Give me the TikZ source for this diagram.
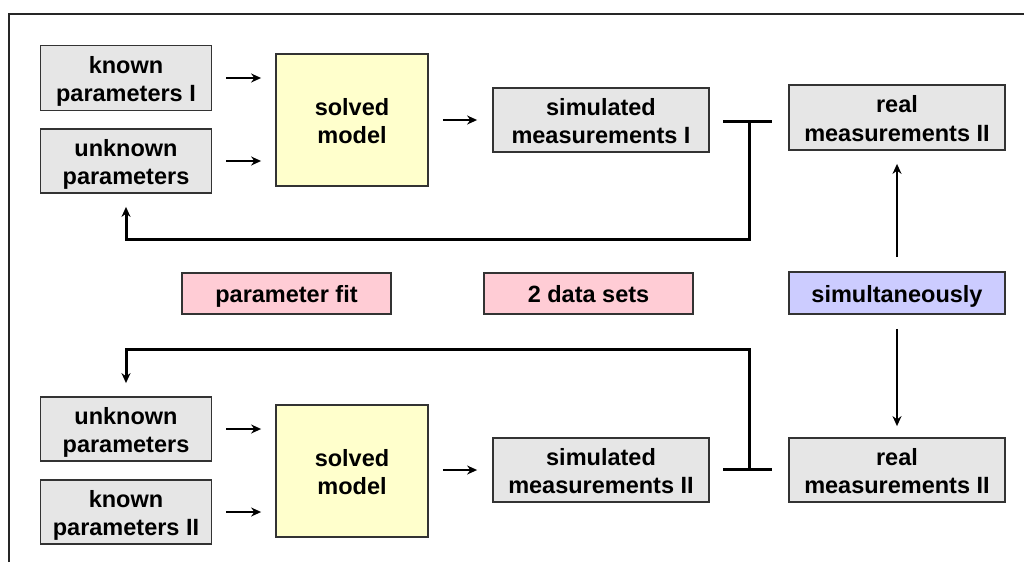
\documentclass[tikz,border=0pt]{standalone}
\usepackage{fontspec}
\setmainfont{Liberation Sans}
\usetikzlibrary{arrows.meta}
\definecolor{boxgray}{HTML}{E6E6E6}
\definecolor{boxyellow}{HTML}{FFFFCC}
\definecolor{boxpink}{HTML}{FFCCD5}
\definecolor{boxblue}{HTML}{CCCCFF}
\definecolor{edge}{HTML}{333333}
\newcommand{\boxtext}[1]{\begin{tabular}[t]{@{}c@{}}#1\end{tabular}}
\tikzset{
  base/.style={draw=edge, line width=1.8pt, inner sep=0pt,
    font=\fontsize{23.5}{28.5}\selectfont\bfseries},
  twoline/.style={text height=5pt, text depth=14.5pt},
  oneline/.style={text height=18pt, text depth=0pt},
  gbox/.style={base, fill=boxgray, twoline},
  ybox/.style={base, fill=boxyellow, twoline},
  pbox/.style={base, fill=boxpink, oneline},
  bbox/.style={base, fill=boxblue, oneline},
  arr/.style={line width=2.8pt, -{Stealth[length=10pt,width=9pt]}},
  fb/.style={line width=3pt},
  fbarr/.style={line width=3pt, -{Stealth[length=10pt,width=9pt]}},
}
\begin{document}
\begin{tikzpicture}[x=1pt,y=-1pt]
\useasboundingbox (0,0) rectangle (1024,562);
\draw[line width=2pt, draw=black!85] (9,562) -- (9,14) -- (1024,14);

% top row
\node[gbox, minimum width=171pt, minimum height=65pt] (kp1) at (126,78) {\boxtext{known\\parameters I}};
\node[gbox, minimum width=171pt, minimum height=64pt] (up1) at (126,161) {\boxtext{unknown\\parameters}};
\node[ybox, minimum width=152pt, minimum height=132pt] (sm1) at (352,120) {\boxtext{solved\\model}};
\node[gbox, minimum width=216pt, minimum height=64pt] (sim1) at (601,120) {\boxtext{simulated\\measurements I}};
\node[gbox, minimum width=216pt, minimum height=65pt] (real1) at (897,117.5) {\boxtext{real\\measurements II}};

% middle row
\node[pbox, minimum width=209pt, minimum height=41pt] (pfit) at (286.5,293.5) {\boxtext{parameter fit}};
\node[pbox, minimum width=209pt, minimum height=41pt] (data) at (588.5,293.5) {\boxtext{2 data sets}};
\node[bbox, minimum width=216pt, minimum height=42pt] (simul) at (897,293) {\boxtext{simultaneously}};

% bottom row
\node[gbox, minimum width=171pt, minimum height=64pt] (up2) at (126,429) {\boxtext{unknown\\parameters}};
\node[gbox, minimum width=171pt, minimum height=64pt] (kp2) at (126,512) {\boxtext{known\\parameters II}};
\node[ybox, minimum width=152pt, minimum height=132pt] (sm2) at (352,471) {\boxtext{solved\\model}};
\node[gbox, minimum width=216pt, minimum height=64pt] (sim2) at (601,470) {\boxtext{simulated\\measurements II}};
\node[gbox, minimum width=216pt, minimum height=64pt] (real2) at (897,470) {\boxtext{real\\measurements II}};

% input arrows
\draw[arr, shorten <=14pt, shorten >=14pt] (kp1.east) -- (kp1.east -| sm1.west);
\draw[arr, shorten <=14pt, shorten >=14pt] (up1.east) -- (up1.east -| sm1.west);
\draw[arr, shorten <=14pt, shorten >=15pt] (sm1.east |- sim1.west) -- (sim1.west);
\draw[arr, shorten <=14pt, shorten >=14pt] (up2.east) -- (up2.east -| sm2.west);
\draw[arr, shorten <=14pt, shorten >=14pt] (kp2.east) -- (kp2.east -| sm2.west);
\draw[arr, shorten <=14pt, shorten >=15pt] (sm2.east |- sim2.west) -- (sim2.west);

% simultaneously arrows
\draw[arr, shorten <=14pt, shorten >=13pt] (simul.north) -- (real1.south);
\draw[arr, shorten <=14pt, shorten >=11pt] (simul.south) -- (real2.north);

% feedback T-junctions
\coordinate (t1a) at (723,121);
\coordinate (t1b) at (772,121);
\coordinate (t1) at (749,121);
\coordinate (c1) at (749,239);
\draw[fb] (t1a) -- (t1b);
\draw[fbarr, shorten >=13pt] (t1) -- (c1) -| (up1.south);

\coordinate (t2a) at (723,469);
\coordinate (t2b) at (772,469);
\coordinate (t2) at (749,469);
\coordinate (c2) at (749,349);
\draw[fb] (t2a) -- (t2b);
\draw[fbarr, shorten >=13pt] (t2) -- (c2) -| (up2.north);
\end{tikzpicture}
\end{document}
